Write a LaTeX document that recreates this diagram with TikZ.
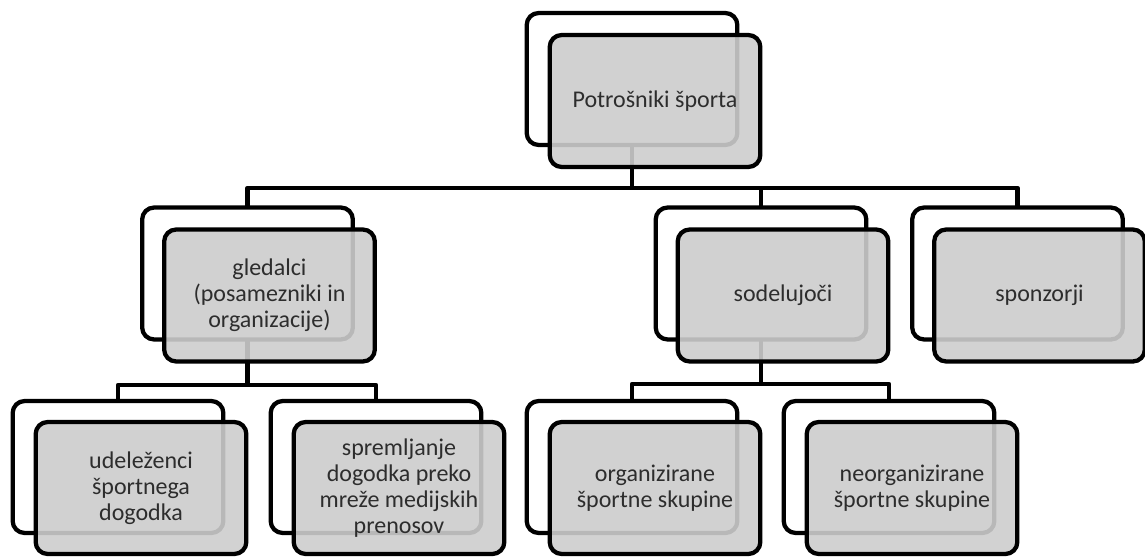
\documentclass[tikz,border=0pt]{standalone}
\usepackage{fontspec}
\setmainfont{Carlito}
\definecolor{boxgray}{RGB}{205,205,205}
\definecolor{txtgray}{RGB}{45,45,45}
\begin{document}
\begin{tikzpicture}[
			x=0.75pt, y=-0.75pt,
			line cap=round, line join=round,
			back/.style={draw=black, line width=3.2pt, rounded corners=9pt, fill=white,
				minimum width=158pt, minimum height=99pt, inner sep=0pt},
			front/.style={back, fill=boxgray, fill opacity=0.9, text opacity=1,
				text=txtgray, align=center, font=\fontsize{18}{19.5}\selectfont},
			link/.style={draw=black, line width=3.2pt, line cap=rect}
			]
			
			\useasboundingbox (0,0) rectangle (1145,557);
			
			\node[back] (p0) at (632,79) {};
			
			\node[back] (g0) at (247.5,273.5) {};
			\node[back] (s0) at (761,273.5) {};
			\node[back] (z0) at (1017.5,273.5) {};
			
			\node[back] (u0) at (118,467) {};
			\node[back] (m0) at (376,467) {};
			\node[back] (o0) at (632,467) {};
			\node[back] (n0) at (889,467) {};
			
			\coordinate (bus0) at (632,188);
			\coordinate (bus1) at (247.5,385);
			\coordinate (bus2) at (761,384);
			
			\draw[link] (p0.south)--(bus0)-|(g0.north);
			\draw[link] (bus0)-|(s0.north);
			\draw[link] (bus0)-|(z0.north);
			
			\draw[link] (g0.south)--(bus1)-|(u0.north);
			\draw[link] (bus1)-|(m0.north);
			
			\draw[link] (s0.south)--(bus2)-|(o0.north);
			\draw[link] (bus2)-|(n0.north);
			
			\node[front] (p1) at ([shift={(23,22)}]p0.center) {Potrošniki športa};
			
			\node[front] (g1) at ([shift={(22,22)}]g0.center) {gledalci\\(posamezniki in\\organizacije)};
			\node[front] (s1) at ([shift={(22,22)}]s0.center) {sodelujoči};
			\node[front] (z1) at ([shift={(22,22)}]z0.center) {sponzorji};
			
			\node[front] (u1) at ([shift={(23,21)}]u0.center) {udeleženci\\športnega\\dogodka};
			\node[front] (m1) at ([shift={(23,21)}]m0.center) {spremljanje\\dogodka preko\\mreže medijskih\\prenosov};
			\node[front] (o1) at ([shift={(23,21)}]o0.center) {organizirane\\športne skupine};
			\node[front] (n1) at ([shift={(23,21)}]n0.center) {neorganizirane\\športne skupine};
		\end{tikzpicture}
\end{document}
